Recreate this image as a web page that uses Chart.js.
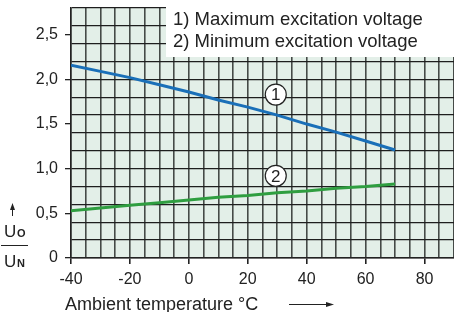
<!DOCTYPE html>
<html>
<head>
<meta charset="utf-8">
<script src="https://cdn.jsdelivr.net/npm/chart.js@4.4.1/dist/chart.umd.min.js"></script>
<style>
  body { margin: 0; background: #fff; }
  #wrap { width: 454px; height: 312px; }
</style>
</head>
<body>
<div id="wrap"><canvas id="chart" width="454" height="312"></canvas></div>
<script>
// Output voltage ratio vs ambient temperature

const temps = [-40, -30, -20, -10, 0, 10, 20, 30, 40, 50, 60, 70];
const maxExcitation = [2.16, 2.09, 2.02, 1.94, 1.86, 1.77, 1.69, 1.60, 1.50, 1.41, 1.31, 1.21];
const minExcitation = [0.53, 0.56, 0.59, 0.62, 0.65, 0.68, 0.70, 0.73, 0.75, 0.78, 0.80, 0.83];

// circled curve numbers
const curveNames = ['1', '2'];
const curveTagX = [29.5, 29.5];
const curveTagY = [1.83, 0.92];

const legendLines = ['1) Maximum excitation voltage', '2) Minimum excitation voltage'];

const xTickValues = [-40, -20, 0, 20, 40, 60, 80];
const yTickValues = [0, 0.5, 1, 1.5, 2, 2.5];
const yTickLabels = ['0', '0,5', '1,0', '1,5', '2,0', '2,5'];
const yGridValues = [0, 0.2, 0.4, 0.6, 0.8, 1, 1.2, 1.4, 1.6, 1.8, 2, 2.2, 2.4, 2.6, 2.8];
const xTitle = 'Ambient temperature °C';

const FONT = "'Liberation Sans', Arial, sans-serif";
const INK = '#222';
const NONE = 'rgba(0,0,0,0)';

function near(list, v) {
    return list.findIndex(t => Math.abs(t - v) < 1e-6);
}

function toPoints(xs, ys) {
    return xs.map((x, i) => ({ x: x, y: ys[i] }));
}

function noPadding(s) {
    s.paddingTop = 0;
    s.paddingBottom = 0;
    s.paddingLeft = 0;
    s.paddingRight = 0;
}

const decorations = {
    id: 'decorations',
    beforeDraw(chart) {
        const { ctx, chartArea: a } = chart;
        ctx.save();
        ctx.fillStyle = '#e3efe8';
        ctx.fillRect(a.left, a.top, a.right - a.left, a.bottom - a.top);
        ctx.restore();
    },
    afterDatasetsDraw(chart) {
        const ctx = chart.ctx;
        const meta = chart.getDatasetMeta(2);
        ctx.save();
        ctx.fillStyle = INK;
        ctx.font = '17px ' + FONT;
        ctx.textAlign = 'center';
        ctx.textBaseline = 'middle';
        meta.data.forEach((pt, i) => {
            ctx.fillText(curveNames[i], pt.x, pt.y + 1);
        });
        ctx.restore();
    },
    afterDraw(chart) {
        const { ctx, chartArea: a } = chart;
        ctx.save();

        // legend box
        ctx.fillStyle = '#fff';
        ctx.fillRect(166, 0, a.right - 166, 57);
        ctx.fillStyle = INK;
        ctx.font = '18.5px ' + FONT;
        ctx.textAlign = 'left';
        ctx.textBaseline = 'middle';
        legendLines.forEach((t, i) => ctx.fillText(t, 173, 20 + i * 22));

        // x title + arrow
        ctx.font = '18px ' + FONT;
        ctx.textBaseline = 'alphabetic';
        ctx.fillText(xTitle, 65, 310);
        ctx.strokeStyle = INK;
        ctx.lineWidth = 1;
        ctx.beginPath();
        ctx.moveTo(289, 304.5);
        ctx.lineTo(328, 304.5);
        ctx.stroke();
        ctx.beginPath();
        ctx.moveTo(334, 304.5);
        ctx.lineTo(326, 302);
        ctx.lineTo(326, 307);
        ctx.closePath();
        ctx.fill();

        // y label: arrow and U_O / U_N
        ctx.beginPath();
        ctx.moveTo(12.5, 216);
        ctx.lineTo(12.5, 207);
        ctx.stroke();
        ctx.beginPath();
        ctx.moveTo(12.5, 203);
        ctx.lineTo(10, 210);
        ctx.lineTo(15, 210);
        ctx.closePath();
        ctx.fill();

        ctx.font = '17px ' + FONT;
        ctx.fillText('U', 4, 237);
        ctx.fillText('U', 4, 267);
        ctx.font = 'bold 11px ' + FONT;
        ctx.fillText('O', 17, 237);
        ctx.fillText('N', 17, 267);
        ctx.beginPath();
        ctx.moveTo(1, 245.5);
        ctx.lineTo(28, 245.5);
        ctx.stroke();

        ctx.restore();
    }
};

new Chart(document.getElementById('chart'), {
    type: 'line',
    data: {
        datasets: [
            {
                data: toPoints(temps, maxExcitation),
                borderColor: '#1a6fb8',
                borderWidth: 3,
                pointRadius: 0
            },
            {
                data: toPoints(temps, minExcitation),
                borderColor: '#2f9e40',
                borderWidth: 3,
                pointRadius: 0
            },
            {
                type: 'scatter',
                data: toPoints(curveTagX, curveTagY),
                pointRadius: 10.5,
                pointBackgroundColor: '#fff',
                pointBorderColor: INK,
                pointBorderWidth: 1.2,
                showLine: false
            }
        ]
    },
    options: {
        responsive: false,
        animation: false,
        layout: { autoPadding: false, padding: { top: 8, right: 0, left: 0, bottom: 0 } },
        plugins: {
            legend: { display: false },
            tooltip: { enabled: false }
        },
        scales: {
            x: {
                type: 'linear',
                min: -40,
                max: 90,
                afterFit: s => { s.height = 54; noPadding(s); },
                ticks: {
                    stepSize: 5,
                    autoSkip: false,
                    maxRotation: 0,
                    padding: 6,
                    color: INK,
                    font: { family: FONT, size: 16 },
                    callback: v => xTickValues.includes(v) ? String(v) : ''
                },
                grid: {
                    color: '#454a47',
                    lineWidth: 1.6,
                    tickLength: 6,
                    tickColor: c => xTickValues.includes(c.tick.value) ? INK : NONE
                },
                border: { color: INK, width: 1.5 }
            },
            y: {
                min: 0,
                max: 2.8,
                afterBuildTicks: s => {
                    const vals = yGridValues.concat(yTickValues.filter(v => near(yGridValues, v) < 0));
                    s.ticks = vals.sort((p, q) => p - q).map(v => ({ value: v }));
                },
                afterFit: s => { s.width = 71; noPadding(s); },
                ticks: {
                    autoSkip: false,
                    padding: 7,
                    color: INK,
                    font: { family: FONT, size: 16 },
                    callback: v => {
                        const i = near(yTickValues, v);
                        return i >= 0 ? yTickLabels[i] : '';
                    }
                },
                grid: {
                    color: c => near(yGridValues, c.tick.value) >= 0 ? '#1e1e1e' : NONE,
                    lineWidth: 1.3,
                    tickLength: 6,
                    tickColor: c => near(yTickValues, c.tick.value) >= 0 ? INK : NONE
                },
                border: { color: INK, width: 1.5 }
            }
        }
    },
    plugins: [decorations]
});
</script>
</body>
</html>
